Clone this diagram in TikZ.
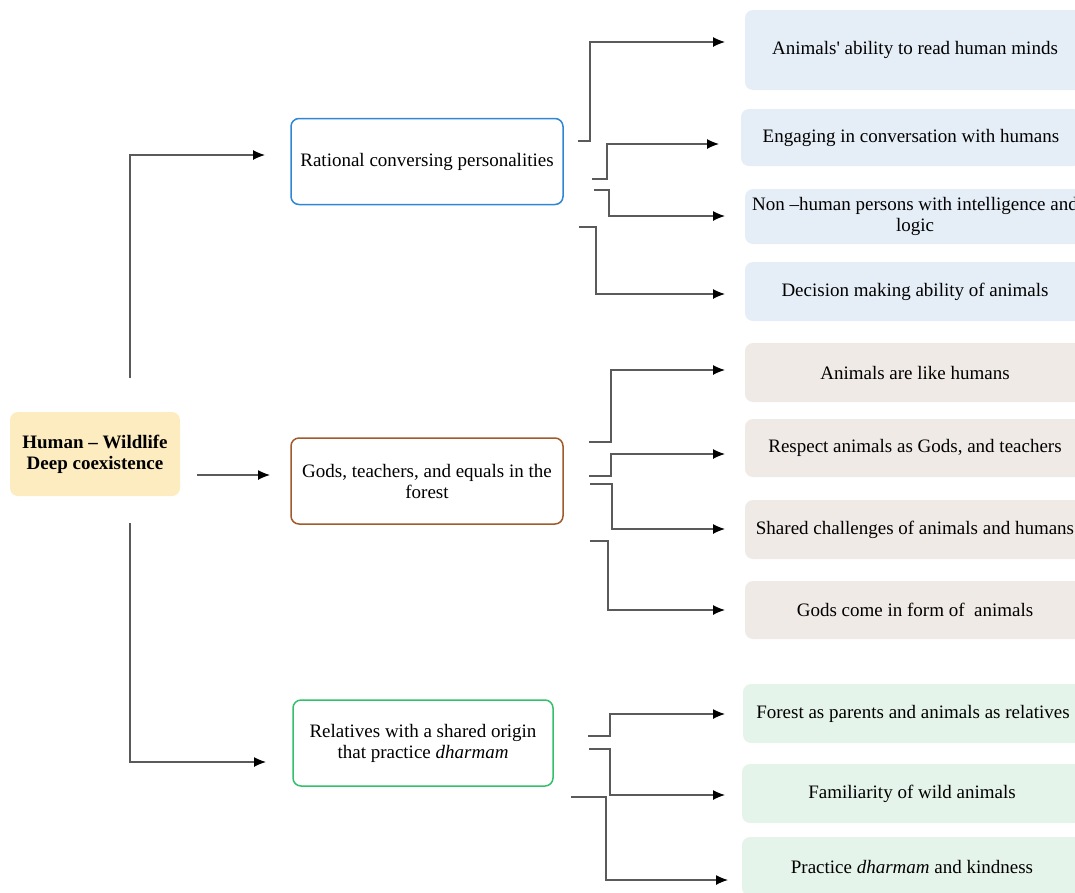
\documentclass[tikz,border=0pt]{standalone}
\usepackage{fontspec}
\setmainfont{Liberation Serif}
\usetikzlibrary{arrows.meta}

\definecolor{rootfill}{HTML}{FCECC0}
\definecolor{bluefill}{HTML}{E5EEF7}
\definecolor{blueline}{HTML}{2F86D4}
\definecolor{brownfill}{HTML}{EFEAE6}
\definecolor{brownline}{HTML}{A05A2C}
\definecolor{greenfill}{HTML}{E5F4EA}
\definecolor{greenline}{HTML}{34C06A}
\definecolor{linkgray}{HTML}{5A5A5A}

\begin{document}
\begin{tikzpicture}[x=1pt, y=-1pt,
  base/.style = {rounded corners=8pt, align=center, inner sep=0pt, font=\fontsize{19}{21}\selectfont},
  root/.style = {base, fill=rootfill, minimum width=170pt, minimum height=84pt, font=\bfseries\fontsize{19}{21}\selectfont},
  theme/.style = {base, draw=#1, line width=1.5pt, fill=white, minimum height=86pt},
  item/.style = {base, fill=#1, minimum width=340pt},
  link/.style = {draw=linkgray, line width=1.2pt, -{Latex[length=12pt, width=10pt, color=black]}}]
\clip (0,0) rectangle (1075,892);
\useasboundingbox (0,0) rectangle (1075,892);

% root and themes
\node[root] (hw) at (95,454) {Human – Wildlife\\Deep coexistence};
\node[theme=blueline, minimum width=272pt] (rational) at (427,161.5) {Rational conversing personalities};
\node[theme=brownline, minimum width=272pt] (gods) at (427,481) {Gods, teachers, and equals in the\\forest};
\node[theme=greenline, minimum width=260pt] (kin) at (423,743) {Relatives with a shared origin\\that practice \textit{dharmam}};

% sub-themes
\node[item=bluefill, minimum height=80pt] (read) at (915,50) {Animals\textquotesingle\ ability to read human minds};
\node[item=bluefill, minimum height=57pt] (talk) at (911,137.5) {Engaging in conversation with humans};
\node[item=bluefill, minimum height=55pt] (logic) at (915,216.5) {Non –human persons with intelligence and\\logic};
\node[item=bluefill, minimum height=59pt] (decide) at (915,291.5) {Decision making ability of animals};
\node[item=brownfill, minimum height=59pt] (like) at (915,372.5) {Animals are like humans};
\node[item=brownfill, minimum height=58pt] (respect) at (915,448) {Respect animals as Gods, and teachers};
\node[item=brownfill, minimum height=59pt] (shared) at (915,529.5) {Shared challenges of animals and humans};
\node[item=brownfill, minimum height=58pt] (form) at (915,610) {Gods come in form of~ animals};
\node[item=greenfill, minimum height=59pt] (parents) at (913,713.5) {Forest as parents and animals as relatives};
\node[item=greenfill, minimum height=59pt] (familiar) at (912,793.5) {Familiarity of wild animals};
\node[item=greenfill, minimum height=59pt] (dharma) at (912,866.5) {Practice \textit{dharmam} and kindness};

% free connector ends
\coordinate (hw-up) at (130,378);
\coordinate (hw-mid) at (197,475);
\coordinate (hw-down) at (130,523);
\coordinate (rational-in) at (265,155);
\coordinate (gods-in) at (270,475);
\coordinate (kin-in) at (266,762);

\coordinate (read-s) at (578,141);     \coordinate (read-e) at (725,42);
\coordinate (talk-s) at (592,179);     \coordinate (talk-e) at (719,144);
\coordinate (logic-s) at (594,190);    \coordinate (logic-e) at (725,216);
\coordinate (decide-s) at (579,227);   \coordinate (decide-e) at (725,294);
\coordinate (like-s) at (589,442);     \coordinate (like-e) at (725,370);
\coordinate (respect-s) at (589,476);  \coordinate (respect-e) at (725,454);
\coordinate (shared-s) at (590,484);   \coordinate (shared-e) at (725,529);
\coordinate (form-s) at (590,541);     \coordinate (form-e) at (725,610);
\coordinate (parents-s) at (588,736);  \coordinate (parents-e) at (725,714);
\coordinate (familiar-s) at (589,749); \coordinate (familiar-e) at (725,795);
\coordinate (dharma-s) at (571,797);   \coordinate (dharma-e) at (728,880);

% connectors
\draw[link] (hw-up) |- (rational-in);
\draw[link] (hw-mid) -- (gods-in);
\draw[link] (hw-down) |- (kin-in);

\draw[link] (read-s) -- ++(12,0) |- (read-e);
\draw[link] (talk-s) -- ++(15,0) |- (talk-e);
\draw[link] (logic-s) -- ++(15,0) |- (logic-e);
\draw[link] (decide-s) -- ++(17,0) |- (decide-e);
\draw[link] (like-s) -- ++(22,0) |- (like-e);
\draw[link] (respect-s) -- ++(22,0) |- (respect-e);
\draw[link] (shared-s) -- ++(22,0) |- (shared-e);
\draw[link] (form-s) -- ++(18,0) |- (form-e);
\draw[link] (parents-s) -- ++(22,0) |- (parents-e);
\draw[link] (familiar-s) -- ++(21,0) |- (familiar-e);
\draw[link] (dharma-s) -- ++(35,0) |- (dharma-e);
\end{tikzpicture}
\end{document}
